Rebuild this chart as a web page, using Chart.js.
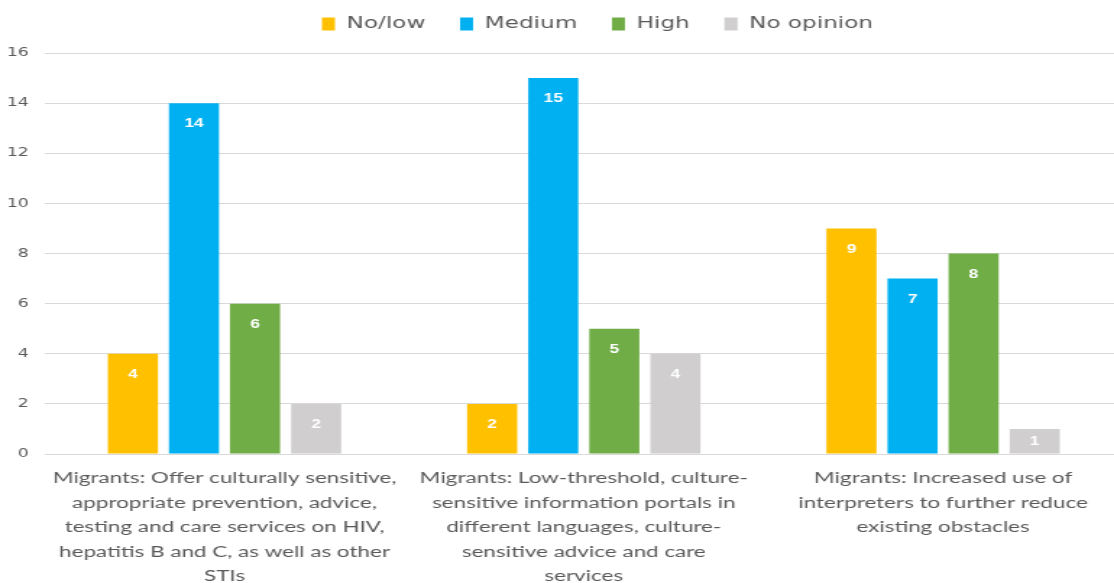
<!DOCTYPE html>
<html>
<head>
<meta charset="utf-8">
<script src="https://cdn.jsdelivr.net/npm/chart.js@4/dist/chart.umd.min.js"></script>
<style>
  html, body { margin: 0; padding: 0; background: #fff; overflow: hidden; }
  #wrap { width: 1114px; height: 583px; overflow: hidden; }
  /* the original picture is stretched sideways, so the canvas is too */
  #myChart { display: block; transform: scaleX(1.4468); transform-origin: 0 0; }
</style>
</head>
<body>
<div id="wrap"><canvas id="myChart" width="776" height="583"></canvas></div>
<script>
var categories = [
	['Migrants: Offer culturally sensitive,', 'appropriate prevention, advice,', 'testing and care services on HIV,', 'hepatitis B and C, as well as other', 'STIs'],
	['Migrants: Low-threshold, culture-', 'sensitive information portals in', 'different languages, culture-', 'sensitive advice and care', 'services'],
	['Migrants: Increased use of', 'interpreters to further reduce', 'existing obstacles']
]
var noLow = [4, 2, 9]
var medium = [14, 15, 7]
var high = [6, 5, 8]
var noOpinion = [2, 4, 1]

var seriesNames = ['No/low', 'Medium', 'High', 'No opinion']
var seriesColors = ['#FFC000', '#00B0F0', '#70AD47', '#D0CECE']

// белые подписи значений внутри столбцов
var valueLabels = {
	id: 'valueLabels',
	afterLayout: function (chart) {
		// легенда в оригинале стоит правее и выше
		chart.legend.left += 25
		chart.legend.right += 25
		chart.legend.top -= 11
		chart.legend.bottom -= 11
	},
	afterDatasetsDraw: function (chart) {
		var c = chart.ctx
		c.save()
		c.fillStyle = '#ffffff'
		c.font = 'bold 12px "Liberation Sans", sans-serif'
		c.textAlign = 'center'
		c.textBaseline = 'middle'
		chart.data.datasets.forEach(function (ds, i) {
			chart.getDatasetMeta(i).data.forEach(function (bar, j) {
				var h = bar.base - bar.y
				c.fillText(ds.data[j], bar.x, bar.y + Math.min(21, h / 2))
			})
		})
		c.restore()
	}
}

var allData = [noLow, medium, high, noOpinion]

var ctx = document.getElementById('myChart').getContext('2d')
var myChart = new Chart(ctx, {
	type: 'bar',
	data: {
		labels: categories,
		datasets: allData.map(function (d, i) {
			return {
				label: seriesNames[i],
				data: d,
				backgroundColor: seriesColors[i],
				barPercentage: 0.82,
				categoryPercentage: 0.68
			}
		})
	},
	options: {
		responsive: false,
		animation: false,
		layout: { padding: { left: 0, right: 0, top: 0, bottom: 0 } },
		plugins: {
			tooltip: { enabled: false },
			legend: {
				position: 'top',
				labels: {
					boxWidth: 9,
					boxHeight: 13,
					padding: 24,
					color: '#595959',
					font: { family: '"DejaVu Sans", sans-serif', size: 16 }
				}
			}
		},
		scales: {
			x: {
				grid: { display: false },
				border: { display: false },
				afterFit: function (scale) { scale.height = 129 },
				ticks: {
					color: '#595959',
					maxRotation: 0,
					autoSkip: false,
					padding: 4,
					font: { family: 'Lato, sans-serif', size: 15.5, lineHeight: 1.58 }
				}
			},
			y: {
				min: 0,
				max: 16,
				afterFit: function (scale) {
					scale.width = 31
					scale.paddingTop = 53
				},
				ticks: {
					stepSize: 2,
					color: '#595959',
					padding: 11,
					font: { family: '"DejaVu Sans", sans-serif', size: 12 }
				},
				grid: { color: '#D9D9D9', drawTicks: false },
				border: { display: false }
			}
		}
	},
	plugins: [valueLabels]
})
</script>
</body>
</html>
